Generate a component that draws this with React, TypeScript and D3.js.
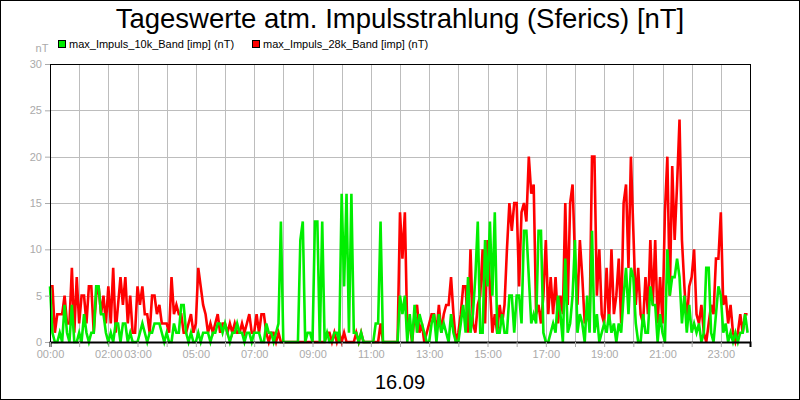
import * as d3 from 'd3';
import React, { useEffect, useRef } from 'react';

// 5-minute values, one row per hour (00:00 .. 23:55)
const band10k = [
  6, 1, 0, 0, 1, 0, 4, 1, 0, 4, 0, 0,
  1, 0, 3, 1, 0, 1, 1, 6, 6, 3, 3, 1,
  0, 1, 0, 2, 2, 0, 2, 2, 0, 1, 0, 0,
  0, 1, 2, 1, 0, 1, 1, 2, 2, 2, 1, 0,
  1, 0, 0, 2, 1, 1, 4, 4, 1, 0, 1, 0,
  0, 1, 0, 1, 1, 1, 0, 1, 1, 2, 2, 1,
  2, 1, 0, 1, 1, 2, 1, 1, 0, 1, 1, 0,
  1, 1, 1, 0, 0, 2, 1, 1, 0, 1, 2, 13,
  0, 0, 0, 0, 0, 0, 0, 11, 13, 0, 1, 1,
  0, 13, 13, 0, 13, 0, 1, 0, 0, 1, 1, 0,
  16, 6, 16, 1, 16, 1, 1, 0, 1, 0, 0, 0,
  0, 0, 2, 2, 13, 0, 0, 0, 0, 0, 0, 0,
  5, 3, 5, 0, 3, 0, 4, 1, 3, 2, 1, 0,
  0, 2, 3, 0, 3, 1, 2, 1, 0, 3, 1, 0,
  0, 2, 4, 1, 7, 1, 3, 7, 13, 1, 1, 11,
  6, 13, 5, 14, 1, 1, 3, 1, 1, 5, 5, 1,
  5, 5, 2, 12, 12, 7, 2, 3, 2, 12, 12, 1,
  0, 0, 1, 2, 1, 5, 3, 0, 9, 1, 2, 5,
  11, 1, 3, 2, 0, 5, 1, 12, 1, 3, 0, 1,
  2, 1, 3, 1, 2, 0, 2, 1, 5, 8, 3, 8,
  7, 2, 0, 0, 3, 1, 1, 6, 4, 4, 0, 3,
  1, 0, 10, 5, 7, 7, 9, 7, 2, 5, 1, 4,
  1, 2, 1, 2, 0, 1, 8, 8, 1, 0, 3, 6,
  5, 1, 2, 0, 1, 0, 1, 0, 1, 1, 3, 1,
];

const band28k = [
  6, 6, 1, 3, 3, 3, 5, 2, 2, 8, 1, 7,
  2, 5, 5, 2, 6, 6, 1, 5, 6, 3, 5, 2,
  6, 2, 8, 1, 4, 7, 4, 7, 2, 5, 1, 1,
  6, 4, 6, 3, 3, 1, 5, 5, 3, 4, 2, 2,
  2, 1, 7, 3, 4, 3, 3, 1, 1, 2, 3, 1,
  2, 8, 6, 4, 3, 1, 2, 1, 2, 3, 1, 2,
  2, 1, 2, 1, 2, 1, 1, 2, 1, 2, 3, 1,
  1, 3, 1, 3, 3, 1, 0, 1, 1, 0, 1, 0,
  0, 0, 0, 0, 0, 0, 0, 0, 0, 0, 0, 0,
  0, 0, 0, 0, 0, 0, 1, 1, 0, 1, 0, 1,
  0, 1, 0, 0, 0, 0, 1, 0, 1, 0, 0, 0,
  0, 0, 0, 0, 2, 0, 0, 0, 0, 0, 0, 0,
  14, 9, 14, 1, 2, 0, 3, 4, 1, 2, 0, 1,
  2, 3, 3, 1, 4, 1, 3, 4, 4, 7, 3, 0,
  1, 3, 6, 6, 1, 10, 2, 1, 4, 5, 10, 2,
  11, 6, 1, 3, 1, 4, 2, 4, 10, 15, 12, 15,
  15, 6, 14, 15, 13, 20, 16, 17, 3, 4, 2, 5,
  11, 3, 7, 3, 7, 2, 5, 3, 15, 4, 15, 17,
  9, 4, 11, 7, 2, 3, 2, 20, 20, 5, 10, 3,
  2, 8, 2, 10, 3, 5, 9, 2, 15, 17, 8, 20,
  12, 4, 8, 3, 2, 7, 3, 11, 4, 11, 2, 7,
  2, 14, 20, 5, 19, 11, 17, 24, 11, 6, 2, 6,
  7, 10, 3, 2, 4, 1, 0, 2, 4, 3, 9, 9,
  14, 4, 5, 2, 4, 1, 0, 1, 3, 1, 3, 3,
];

const seriesNames = ['max_Impuls_10k_Band [imp] (nT)', 'max_Impuls_28k_Band [imp] (nT)'];
const labelledHours = [0, 2, 3, 5, 7, 9, 11, 13, 15, 17, 19, 21, 23];
const yTicks = [0, 5, 10, 15, 20, 25, 30];
const title = 'Tageswerte atm. Impulsstrahlung (Sferics) [nT]';
const dateLabel = '16.09';

const FONT = '"Liberation Sans", Arial, sans-serif';

export default function App() {
  const svgRef = useRef<SVGSVGElement>(null);

  useEffect(() => {
    if (!svgRef.current) return;
    const width = 800;
    const height = 400;
    const margin = { top: 64, right: 50, bottom: 58, left: 50 };

    const svg = d3.select(svgRef.current);
    svg.selectAll('*').remove();

    svg.append('rect')
      .attr('x', 0.5).attr('y', 0.5)
      .attr('width', width - 1).attr('height', height - 1)
      .attr('fill', '#fff').attr('stroke', '#000');

    const x = d3.scaleLinear().domain([0, 1440]).range([margin.left, width - margin.right]);
    const y = d3.scaleLinear().domain([0, 30]).range([height - margin.bottom, margin.top]);

    // grid
    const hours = d3.range(0, 25).map(h => h * 60);
    svg.append('g')
      .selectAll('line')
      .data(hours)
      .join('line')
      .attr('x1', d => Math.round(x(d)) + 0.5)
      .attr('x2', d => Math.round(x(d)) + 0.5)
      .attr('y1', y(30))
      .attr('y2', y(0))
      .attr('stroke', '#bdbdbd');
    svg.append('g')
      .selectAll('line')
      .data(yTicks)
      .join('line')
      .attr('x1', x(0))
      .attr('x2', x(1440))
      .attr('y1', d => Math.round(y(d)) + 0.5)
      .attr('y2', d => Math.round(y(d)) + 0.5)
      .attr('stroke', '#bdbdbd');

    // series
    const line = d3.line<number>()
      .x((_, i) => x(i * 5))
      .y(d => y(d));

    svg.append('path')
      .datum(band28k)
      .attr('d', line)
      .attr('fill', 'none')
      .attr('stroke', '#ff0000')
      .attr('stroke-width', 2.6)
      .attr('stroke-linejoin', 'miter');

    svg.append('path')
      .datum(band10k)
      .attr('d', line)
      .attr('fill', 'none')
      .attr('stroke', '#00ee00')
      .attr('stroke-width', 2.6)
      .attr('stroke-linejoin', 'miter');

    // frame
    svg.append('rect')
      .attr('x', x(0) + 0.5).attr('y', y(30) + 0.5)
      .attr('width', x(1440) - x(0)).attr('height', y(0) - y(30))
      .attr('fill', 'none').attr('stroke', '#000');

    // axes
    const yAxis = d3.axisLeft(y).tickValues(yTicks).tickSize(5).tickPadding(3);
    const gy = svg.append('g')
      .attr('transform', `translate(${x(0)},0)`)
      .call(yAxis);
    gy.select('.domain').attr('stroke', '#000');
    gy.selectAll('.tick line').attr('stroke', '#aaa');
    gy.selectAll('.tick text')
      .attr('fill', '#aaa')
      .style('font-family', FONT)
      .style('font-size', '11px');

    const xAxis = d3.axisBottom(x)
      .tickValues(hours.slice(0, 24))
      .tickSize(5)
      .tickPadding(3)
      .tickFormat(d => {
        const h = +d / 60;
        return labelledHours.includes(h) ? `${String(h).padStart(2, '0')}:00` : '';
      });
    const gx = svg.append('g')
      .attr('transform', `translate(0,${y(0)})`)
      .call(xAxis);
    gx.select('.domain').attr('stroke', '#000').attr('stroke-width', 2);
    gx.selectAll('.tick line').attr('stroke', '#aaa');
    gx.selectAll('.tick text')
      .attr('fill', '#aaa')
      .style('font-family', FONT)
      .style('font-size', '11px');

    // y unit
    svg.append('text')
      .attr('x', 42).attr('y', 52)
      .attr('text-anchor', 'middle')
      .attr('fill', '#aaa')
      .style('font-family', FONT)
      .style('font-size', '11px')
      .text('nT');

    // title
    svg.append('text')
      .attr('x', 400).attr('y', 28)
      .attr('text-anchor', 'middle')
      .style('font-family', FONT)
      .style('font-size', '27.5px')
      .text(title);

    // legend
    const legendX = [58, 252];
    const colors = ['#00ee00', '#ff0000'];
    seriesNames.forEach((name, i) => {
      svg.append('rect')
        .attr('x', legendX[i] + 0.5).attr('y', 40.5)
        .attr('width', 7).attr('height', 7)
        .attr('fill', colors[i]).attr('stroke', '#000');
      svg.append('text')
        .attr('x', legendX[i] + 11).attr('y', 48)
        .style('font-family', FONT)
        .style('font-size', '11px')
        .text(name);
    });

    // date
    svg.append('text')
      .attr('x', 400).attr('y', 389)
      .attr('text-anchor', 'middle')
      .style('font-family', FONT)
      .style('font-size', '20px')
      .text(dateLabel);
  }, []);

  return (
    <svg
      ref={svgRef}
      width={800}
      height={400}
      style={{ position: 'absolute', left: 0, top: 0, display: 'block' }}
    />
  );
}
